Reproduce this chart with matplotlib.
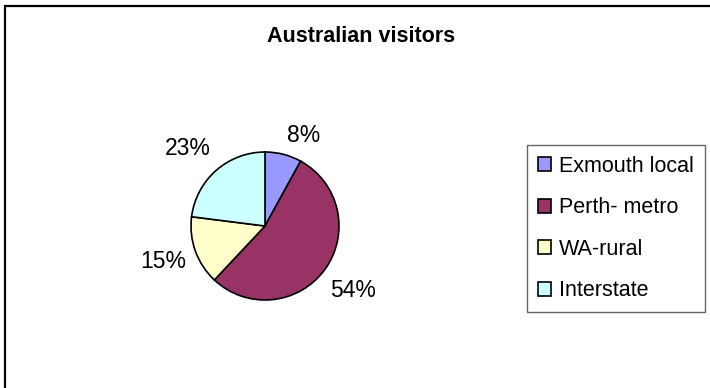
import matplotlib
matplotlib.use("Agg")
import matplotlib.pyplot as plt
from matplotlib.patches import Rectangle
import numpy as np

plt.rcParams['font.family'] = ['Liberation Sans', 'DejaVu Sans']

categories = ["Exmouth local", "Perth- metro", "WA-rural", "Interstate"]
shares = [8, 54, 15, 23]
colors = ["#9999FF", "#993366", "#FFFFCC", "#CCFFFF"]
title = "Australian visitors"

W, H = 710, 388
fig = plt.figure(figsize=(W / 100, H / 100), dpi=100)

# outer chart frame (runs off the right and bottom edges)
frame = Rectangle((5 / W, -0.02), 1.05, 1 - 6 / H + 0.02, transform=fig.transFigure,
                  fill=False, edgecolor="#000000", linewidth=1.6, clip_on=False)
fig.patches.append(frame)

# pie axes: centre (265, 226) px, radius 74 px
cx, cy, r = 265, 226, 74
ax = fig.add_axes([(cx - r) / W, 1 - (cy + r) / H, 2 * r / W, 2 * r / H])

wedges, _, autotexts = ax.pie(
    shares, colors=colors, startangle=90, counterclock=False, radius=1,
    autopct='%1.0f%%', pctdistance=1.45,
    wedgeprops=dict(edgecolor='black', linewidth=1.2),
    textprops=dict(fontsize=16.5, color='black'),
)
ax.set_xlim(-1, 1)
ax.set_ylim(-1, 1)
ax.set_aspect('equal')
ax.axis('off')
for w in wedges:
    w.set_clip_on(False)

# place percentage labels around the rim
label_dist = [1.36, 1.46, 1.45, 1.50]
label_shift = [-8, 1, -2, 3]
for w, t, d, s in zip(wedges, autotexts, label_dist, label_shift):
    ang = np.deg2rad((w.theta1 + w.theta2) / 2 + s)
    t.set_position((d * np.cos(ang), d * np.sin(ang) - 0.03))
    t.set_clip_on(False)

fig.text(361 / W, 1 - 36 / H, title, ha='center', va='center',
         fontsize=15.5, fontweight='bold')

leg = fig.legend(wedges, categories, loc='upper left',
                 bbox_to_anchor=(527 / W, 1 - 145 / H),
                 fontsize=15.5, frameon=True, fancybox=False, shadow=False,
                 handlelength=0.62, handleheight=0.62, handletextpad=0.38,
                 labelspacing=0.95, borderpad=0.5, borderaxespad=0)
leg.get_frame().set_edgecolor('#404040')
leg.get_frame().set_linewidth(1.0)

fig.savefig("out.png", dpi=100)
